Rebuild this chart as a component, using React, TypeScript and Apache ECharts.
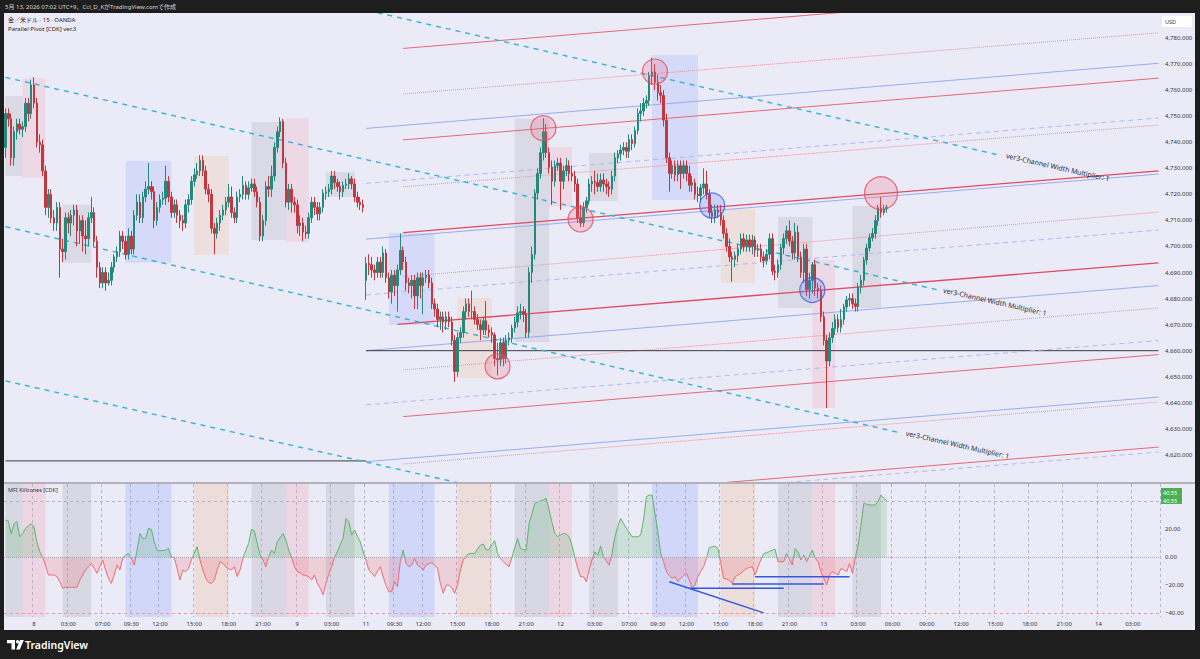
import React, { useEffect, useRef } from "react";
import * as echarts from "echarts";

const FONT = "'Noto Sans', 'Noto Sans CJK JP', sans-serif";
const N_SLOTS = 404;

const TICK_IDX = [10, 22, 34, 44, 54, 66, 78, 90, 102, 114, 126, 136, 146, 158, 170, 182, 194, 206, 218, 228, 238, 250, 262, 274, 286, 298, 310, 322, 334, 346, 358, 370, 382, 394];
const TICK_LABELS = ["8", "03:00", "07:00", "09:30", "12:00", "15:00", "18:00", "21:00", "9", "03:00", "11", "09:30", "12:00", "15:00", "18:00", "21:00", "12", "03:00", "07:00", "09:30", "12:00", "15:00", "18:00", "21:00", "13", "03:00", "06:00", "09:00", "12:00", "15:00", "18:00", "21:00", "14", "03:00"];

const PRICE_TICKS = [4620, 4630, 4640, 4650, 4660, 4670, 4680, 4690, 4700, 4710, 4720, 4730, 4740, 4750, 4760, 4770, 4780];
const MFI_TICKS = [20, 0, -20, -40];

// [open, close, low, high] per 15-min bar
const CANDLES: number[][] = [
  [4738, 4751, 4734, 4753], [4751, 4749, 4746, 4753], [4749, 4734, 4731, 4751], [4734, 4744, 4731, 4746], [4744, 4747, 4741, 4749],
  [4747, 4745, 4743, 4749], [4745, 4746, 4742, 4748], [4746, 4755, 4744, 4757], [4755, 4751, 4748, 4757], [4751, 4762, 4749, 4764],
  [4762, 4755, 4753, 4765], [4755, 4740, 4738, 4757], [4740, 4739, 4736, 4743], [4739, 4729, 4727, 4741], [4729, 4715, 4712, 4731],
  [4715, 4720, 4711, 4722], [4720, 4711, 4709, 4722], [4711, 4709, 4706, 4714], [4709, 4715, 4706, 4717], [4715, 4699, 4688, 4717],
  [4699, 4698, 4694, 4703], [4698, 4711, 4695, 4713], [4711, 4709, 4705, 4713], [4709, 4712, 4704, 4714], [4712, 4714, 4708, 4716],
  [4714, 4706, 4700, 4716], [4706, 4710, 4701, 4712], [4710, 4704, 4698, 4712], [4704, 4703, 4697, 4710], [4703, 4711, 4700, 4713],
  [4711, 4713, 4709, 4719], [4713, 4702, 4700, 4715], [4702, 4692, 4688, 4704], [4692, 4686, 4684, 4694], [4686, 4690, 4684, 4692],
  [4690, 4686, 4683, 4692], [4686, 4687, 4685, 4690], [4687, 4692, 4685, 4694], [4692, 4696, 4690, 4697], [4696, 4698, 4694, 4700],
  [4698, 4704, 4696, 4706], [4704, 4702, 4699, 4706], [4702, 4697, 4695, 4704], [4697, 4704, 4695, 4707], [4704, 4699, 4697, 4706],
  [4699, 4712, 4697, 4714], [4712, 4717, 4710, 4720], [4717, 4711, 4709, 4720], [4711, 4719, 4709, 4721], [4719, 4722, 4717, 4725],
  [4722, 4723, 4720, 4732], [4723, 4721, 4718, 4725], [4721, 4710, 4707, 4723], [4710, 4715, 4708, 4717], [4715, 4718, 4713, 4720],
  [4718, 4718.5, 4716, 4721], [4718.5, 4725, 4716, 4731], [4725, 4719, 4717, 4727], [4719, 4713, 4711, 4721], [4713, 4716, 4711, 4718],
  [4716, 4712, 4709, 4718], [4712, 4710, 4707, 4714], [4710, 4709, 4706, 4712], [4709, 4716, 4707, 4718], [4716, 4718, 4713, 4720],
  [4718, 4725, 4716, 4727], [4725, 4727.5, 4723, 4730], [4727.5, 4729, 4726, 4732], [4729, 4733, 4727, 4735], [4733, 4729, 4727, 4735],
  [4729, 4722, 4720, 4731], [4722, 4720, 4717, 4724], [4720, 4707, 4705, 4722], [4707, 4705, 4697, 4709], [4705, 4709, 4703, 4711],
  [4709, 4712, 4706, 4714], [4712, 4714, 4710, 4716], [4714, 4717, 4712, 4719], [4717, 4719, 4715, 4724], [4719, 4713, 4711, 4723],
  [4713, 4711, 4709, 4715], [4711, 4719, 4709, 4721], [4719, 4720, 4717, 4722], [4720, 4723.5, 4718, 4727], [4723.5, 4720, 4718, 4725],
  [4720, 4722.5, 4718, 4725], [4722.5, 4724, 4721, 4726], [4724, 4721, 4719, 4726], [4721, 4717, 4715, 4723], [4717, 4704, 4702, 4719],
  [4704, 4710, 4702, 4712], [4710, 4723, 4708, 4725], [4723, 4722, 4719, 4727], [4722, 4727, 4719, 4731], [4727, 4738, 4725, 4740],
  [4738, 4744, 4736, 4746], [4744, 4748, 4742, 4749.5], [4748, 4732, 4730, 4749], [4732, 4717, 4715, 4734], [4717, 4722, 4714, 4724],
  [4722, 4717, 4713, 4724], [4717, 4716, 4713, 4719], [4716, 4708, 4705, 4718], [4708, 4709, 4704, 4712], [4709, 4705.5, 4702, 4711],
  [4705.5, 4705, 4703, 4708], [4705, 4711, 4703, 4713], [4711, 4717, 4709, 4719], [4717, 4715, 4712, 4719], [4715, 4712.5, 4710, 4717],
  [4712.5, 4715, 4710, 4717], [4715, 4720.5, 4713, 4722], [4720.5, 4721, 4718, 4723], [4721, 4722, 4719, 4724], [4722, 4727, 4720, 4729],
  [4727, 4724.5, 4722, 4729], [4724.5, 4723, 4721, 4726], [4723, 4721, 4718, 4725], [4721, 4723.5, 4719, 4725], [4723.5, 4724, 4722, 4726],
  [4724, 4726, 4722, 4728], [4726, 4724, 4722, 4727], [4724, 4719, 4717, 4726], [4719, 4717, 4715, 4721], [4717, 4716, 4714, 4719],
  [4716, 4715, 4713, 4718],
  [4687, 4693.5, 4679.5, 4696], [4693.5, 4693, 4689, 4697], [4693, 4691, 4688, 4696], [4691, 4690, 4687, 4693], [4690, 4694, 4688, 4696],
  [4694, 4690, 4688, 4696], [4690, 4697.5, 4688, 4700], [4697.5, 4688, 4686, 4699], [4688, 4682.5, 4680, 4690], [4682.5, 4689, 4678, 4691],
  [4689, 4685, 4681, 4691], [4685, 4691, 4675, 4693], [4691, 4698.5, 4689, 4705], [4698.5, 4694, 4691, 4700], [4694, 4686, 4683, 4696],
  [4686, 4685, 4682, 4688], [4685, 4687, 4680, 4689], [4687, 4681, 4676, 4689], [4681, 4688, 4676, 4690], [4688, 4685, 4680, 4690],
  [4685, 4688, 4674, 4690], [4688, 4689, 4686, 4691], [4689, 4686, 4684, 4691], [4686, 4678, 4676, 4688], [4678, 4676, 4673, 4680],
  [4676, 4672, 4669, 4678], [4672, 4673, 4668, 4675], [4673, 4671, 4667, 4675], [4671, 4673, 4668, 4675], [4673, 4671, 4669, 4675],
  [4671, 4664, 4662, 4673], [4664, 4652, 4648, 4666], [4652, 4665, 4650, 4667], [4665, 4667, 4663, 4669], [4667, 4675, 4665, 4677],
  [4675, 4678, 4672, 4680], [4678, 4675, 4673, 4680], [4675, 4675, 4672, 4683], [4675, 4672, 4670, 4677], [4672, 4670, 4668, 4674],
  [4670, 4668, 4664, 4672], [4668, 4671.5, 4666, 4673], [4671.5, 4668, 4666, 4679], [4668, 4667, 4665, 4670], [4667, 4666, 4663, 4669],
  [4666, 4657, 4654, 4667], [4657, 4656.5, 4650.5, 4663], [4656.5, 4663, 4654, 4665], [4663, 4657, 4654, 4665], [4657, 4664, 4655, 4666],
  [4664, 4665, 4662, 4667], [4665, 4668.7, 4663, 4670], [4668.7, 4671, 4667, 4673], [4671, 4674.5, 4669, 4677], [4674.5, 4675, 4672, 4678],
  [4675, 4674, 4671, 4677], [4674, 4667, 4665, 4676], [4667, 4690, 4665, 4692], [4690, 4697, 4686, 4700], [4697, 4720.5, 4695, 4722],
  [4720.5, 4728, 4718, 4730], [4728, 4736, 4726, 4738], [4736, 4744, 4733, 4749.3], [4744, 4736, 4734, 4747], [4736, 4730.5, 4728, 4738],
  [4730.5, 4725, 4716, 4733], [4725, 4731, 4723, 4733], [4731, 4732, 4729, 4734], [4732, 4725, 4714, 4734], [4725, 4729, 4722, 4731],
  [4729, 4731, 4727, 4734], [4731, 4728, 4725, 4733], [4728, 4727, 4725, 4731], [4727, 4724, 4721, 4729], [4724, 4711, 4709, 4726],
  [4711, 4709, 4707.5, 4716], [4709, 4715, 4707.5, 4717], [4715, 4717.5, 4713, 4719], [4717.5, 4724, 4716, 4726], [4724, 4725, 4721, 4727],
  [4725, 4724.5, 4720, 4729], [4724.5, 4723, 4721, 4728], [4723, 4725.5, 4721, 4728], [4725.5, 4724, 4721, 4728], [4724, 4723, 4720, 4726],
  [4723, 4722, 4719, 4725], [4722, 4727, 4720, 4729], [4727, 4734, 4725, 4736], [4734, 4735.5, 4732, 4737], [4735.5, 4737, 4733, 4739],
  [4737, 4738, 4735, 4740], [4738, 4736.5, 4734, 4740], [4736.5, 4741, 4734, 4743], [4741, 4739.5, 4737, 4743], [4739.5, 4744.5, 4738, 4746],
  [4744.5, 4751, 4743, 4753], [4751, 4752, 4748, 4755], [4752, 4755, 4750, 4757], [4755, 4756, 4753, 4758], [4756, 4765.5, 4754, 4767],
  [4765.5, 4767, 4762, 4772.5], [4767, 4763, 4760, 4770], [4763, 4759, 4756, 4766], [4759, 4758, 4755, 4762], [4758, 4748.5, 4746, 4760],
  [4748.5, 4734, 4732, 4751], [4734, 4728, 4721, 4736], [4728, 4731, 4726, 4733], [4731, 4727.5, 4725, 4733], [4727.5, 4731, 4725, 4733],
  [4731, 4728, 4722, 4733], [4728, 4731, 4726, 4733], [4731, 4728, 4725, 4733], [4728, 4723.5, 4721, 4731], [4723.5, 4724.5, 4721, 4727],
  [4724.5, 4720, 4718, 4726], [4720, 4719.5, 4717, 4723], [4719.5, 4722.5, 4717, 4724], [4722.5, 4724, 4720, 4730], [4724, 4720, 4718, 4729],
  [4720, 4713, 4711, 4722], [4713, 4711.5, 4709, 4716], [4711.5, 4714, 4709, 4716], [4714, 4713, 4711, 4716], [4713, 4710, 4708, 4716],
  [4710, 4705, 4703, 4712], [4705, 4700, 4698, 4707], [4700, 4696, 4694, 4703], [4696, 4695, 4686.5, 4698], [4695, 4696.5, 4692, 4698],
  [4696.5, 4699, 4694, 4701], [4699, 4703, 4697, 4705], [4703, 4700, 4698, 4705], [4700, 4702.5, 4698, 4704.5], [4702.5, 4700, 4698, 4704.5],
  [4700, 4702.5, 4697, 4704.5], [4702.5, 4698.5, 4696, 4704], [4698.5, 4699, 4696, 4701], [4699, 4696, 4694, 4701], [4696, 4694.5, 4692, 4698],
  [4694.5, 4697, 4693, 4699], [4697, 4703, 4695, 4705], [4703, 4690.5, 4689, 4705], [4690.5, 4690, 4687, 4693], [4690, 4693, 4688, 4695],
  [4693, 4699.5, 4691, 4701], [4699.5, 4703, 4697, 4705], [4703, 4706, 4701, 4708], [4706, 4702, 4700, 4710], [4702, 4697.5, 4695, 4704],
  [4697.5, 4705.5, 4695, 4709], [4705.5, 4696, 4694, 4708], [4696, 4690, 4688, 4698], [4690, 4699, 4686, 4701], [4699, 4683.5, 4681, 4701],
  [4683.5, 4687, 4680, 4690], [4687, 4693, 4682, 4694], [4693, 4684, 4681, 4695], [4684, 4683, 4680, 4686], [4683, 4673, 4671, 4685],
  [4673, 4664, 4662, 4675], [4664, 4656, 4638, 4666], [4656, 4665, 4654, 4667], [4665, 4668.5, 4663, 4671], [4668.5, 4672, 4666, 4674],
  [4672, 4669, 4667, 4674], [4669, 4672, 4667, 4676], [4672, 4676.8, 4670, 4678], [4676.8, 4679.5, 4675, 4681], [4679.5, 4680, 4677, 4682],
  [4680, 4678, 4676, 4682], [4678, 4677, 4675, 4680], [4677, 4684.5, 4675, 4686], [4684.5, 4687, 4682, 4689], [4687, 4694.8, 4685, 4696],
  [4694.8, 4699.4, 4693, 4701], [4699.4, 4703.3, 4698, 4705], [4703.3, 4705, 4702, 4707], [4705, 4710, 4703, 4712], [4710, 4714.8, 4708, 4716],
  [4714.8, 4713, 4711, 4719], [4713, 4714.5, 4712, 4716], [4714.5, 4715, 4713, 4716],
];

const MFI: number[] = [
  26.6, 26, 17, 24, 25.6, 14.7, 17, 20.7, 22.5, 24,
  21.7, 11.2, 4, 0, -5.5, -12.6, -12.6, -12.6, -13.8, -17.4,
  -22.1, -21.4, -21.4, -21.4, -21.4, -21.4, -16.2, -12.6, -9, -6.7,
  -4.3, -7.9, -11.4, -6.7, -1.9, -9, -15, -18.6, -12.6, -5.5,
  -9, -0.7, 1.6, 2.8, -0.7, -5.5, 5.2, 17, 13.5, 13.5,
  20.7, 20, 11.2, 5.2, 4.8, 4.8, 5.2, 6.4, 0, 0,
  -8, -16.2, -9, -10.2, -7.9, -1.9, 3, 7.6, -1.9, -9,
  -15, -18, -18.6, -16.2, -9, -3.1, -4.3, -6.7, -8, -9,
  -6.7, -13.8, -9, -0.7, 5, 10, 20, 19, 10, 2,
  -1.9, -6.7, 0.5, 5.2, 2.8, 11.2, 14, 17, 12.4, 5.2,
  0, -6.7, -10.2, -11, -12.6, -13, -13.8, -16.2, -12.6, -18.6,
  -22, -26.9, -18.6, -12, -6.7, 0, 4, 9, 13.5, 27.8,
  25.6, 16, 19.5, 15, 11.2, 4, -1.9, -9, -11, -13.8,
  -10, -6.7, -13.8, -20, -24.5, -24.5, -17.4, -21, -3, 5.2,
  -4.3, -6.7, -5.5, -0.7, -5.5, -7, -9, -5.5, -4.5, -3.8,
  -5.5, -7.9, -18.6, -25.7, -19.8, -19.8, -22, -25.7, -19.8, -9,
  -1.9, 1, 2.8, 2.8, 2.8, 6, 8.8, 9.5, 5.2, 5.7,
  9, 11.9, 2.8, -0.7, -3.1, -5, -6.7, 0, 7, 13.5,
  6.4, 5.5, 5.2, 24.3, 31, 38.6, 39.5, 40.4, 41, 42.1,
  33.8, 25, 17.1, 14.7, 16, 17.1, 16.7, 14.7, 8.8, 0,
  -7.9, -13.8, -13.8, -17.4, -9, -1.9, 4, 1.6, 8, 0.5,
  -2.5, -5.5, 2.8, 14.7, 22, 27.8, 24.3, 20.7, 18, 14.7,
  14.7, 14.7, 16, 26.7, 43.3, 44.5, 44.5, 31.4, 18.3, 2.8,
  -3.1, -10.2, -13, -15, -13.8, -17.4, -15, -13, -11.4, -16.2,
  -22.1, -19.8, -13.8, -10, -6.7, -0.7, 7.1, 7.5, 8, 6.4,
  -4.3, -15, -15.5, -16.2, -18.6, -13.8, -12.6, -11.4, -9.5, -7.9,
  -7.3, -6.7, -12.6, -6.7, -1.9, 2.8, 3.3, 4.2, 5.2, 5.7,
  -3.1, -3.1, -3.1, 2.8, -1.5, -5.5, 6.4, 4, -1.9, 1.6,
  -3.1, 1, 5.2, -0.7, -3.1, -10.2, -15, -19.8, -12.6, -10.2,
  -11.4, -12.6, -7.9, -9, -10.2, -4.3, -11.4, -0.7, 8.8, 23,
  38.6, 38, 37.4, 37.4, 37.4, 40, 44.5, 42.1, 40.55,
];
const MFI_LAST = "40.55";

// killzone sessions (bar index ranges) and their price boxes
const BAND_START = [0, 6, 20, 42, 66, 86, 98, 112, 134, 158, 178, 190, 204, 226, 250, 270, 282, 296];
const BAND_END = [6, 14, 30, 58, 78, 98, 106, 122, 150, 170, 190, 198, 214, 242, 262, 282, 290, 306];
const BAND_KIND = ["g", "p", "g", "b", "o", "g", "p", "g", "b", "o", "g", "p", "g", "b", "o", "g", "p", "g"];
const BOX_LOW = [4727, 4726.3, 4693.7, 4693.7, 4696.7, 4702.5, 4701.7, 4719, 4669.9, 4649.5, 4663.3, 4715.2, 4717.4, 4717.8, 4686, 4676.4, 4638, 4676.4];
const BOX_HIGH = [4757.7, 4764.6, 4716, 4732.8, 4734.7, 4747.8, 4749.3, 4728.6, 4705.2, 4680.2, 4749, 4738.2, 4735.9, 4773.5, 4714.4, 4711.3, 4694.8, 4715.5];

// parallel pivot channel lines: [start bar, start price] -> [end bar, end price]
const CH_KIND = ["redSolid", "redDot", "blueSolid", "redSolid", "blueDash", "redDot", "redThick", "blueSolid", "redDot", "blueDash", "redThick", "blueSolid", "redDot", "black", "blueDash", "redSolid", "blueSolid", "redDot", "redSolid", "blueDash", "black"];
const CH_X0 = [139, 139, 126, 139, 126, 139, 139, 126, 139, 126, 137, 126, 139, 126, 126, 139, 126, 139, 139, 126, 0];
const CH_P0 = [4776.0, 4758.5, 4745.3, 4740.9, 4724.2, 4722.9, 4705.3, 4702.8, 4688.4, 4681.4, 4670.1, 4660.0, 4652.6, 4660, 4639.2, 4634.7, 4617.4, 4616.5, 4599.3, 4596.2, 4617.7];
const CH_X1 = [403, 403, 403, 403, 403, 403, 403, 403, 403, 403, 403, 403, 403, 403, 403, 403, 403, 403, 403, 403, 126];
const CH_P1 = [4799.8, 4782.0, 4770.3, 4764.6, 4749.3, 4746.6, 4729.0, 4727.8, 4713.2, 4706.3, 4693.7, 4685.0, 4676.4, 4660, 4663.9, 4658.5, 4642.2, 4640.3, 4623.0, 4621.1, 4617.7];

// descending channel (cyan) lines
const CY_X0 = [113, 0, 0, 0];
const CY_P0 = [4794, 4764.9, 4707.6, 4648.4];
const CY_X1 = [348, 326, 313, 200];
const CY_P1 = [4734.9, 4683.3, 4628.4, 4599];
const CY_LABEL = ["ver3-Channel Width Multiplier: 1", "ver3-Channel Width Multiplier: 1", "ver3-Channel Width Multiplier: 1", ""];

// pivot circles
const CIRCLE_X = [172, 188, 201, 227, 306, 247, 282];
const CIRCLE_P = [4654, 4745.4, 4710.4, 4767.1, 4720.4, 4715.7, 4683.3];
const CIRCLE_KIND = ["red", "red", "red", "red", "redBig", "blue", "blue"];

// MFI trend lines
const MT_X0 = [232, 239, 254, 262];
const MT_V0 = [-17.4, -22.1, -19, -13.8];
const MT_X1 = [265, 272, 286, 295];
const MT_V1 = [-39.6, -22.1, -19, -13.8];

const BAND_COLORS: Record<string, string> = {
  g: "rgba(150,150,165,0.22)",
  p: "rgba(245,140,165,0.22)",
  b: "rgba(120,150,255,0.24)",
  o: "rgba(240,175,125,0.22)",
};
const BOX_COLORS: Record<string, string> = {
  g: "rgba(150,150,165,0.2)",
  p: "rgba(245,140,165,0.2)",
  b: "rgba(120,150,255,0.2)",
  o: "rgba(240,175,125,0.2)",
};
const LINE_STYLES: Record<string, any> = {
  redSolid: { color: "#e6677a", width: 1, type: "solid" },
  redThick: { color: "#e14a5e", width: 1.3, type: "solid" },
  redDot: { color: "#ec8e9b", width: 1, type: "dotted" },
  blueSolid: { color: "#97abef", width: 1, type: "solid" },
  blueDash: { color: "#aab9f0", width: 1, type: [5, 4] },
  black: { color: "#3a3a42", width: 1, type: "solid" },
};

const fmtPrice = (v: number) =>
  v.toLocaleString("en-US", { minimumFractionDigits: 3, maximumFractionDigits: 3 });
const fmtMfi = (v: number) => (v < 0 ? "\u2212" : "") + Math.abs(v).toFixed(2);

export default function App() {
  const ref = useRef<HTMLDivElement>(null);

  useEffect(() => {
    document.body.style.margin = "0";
    if (!ref.current) return;
    const chart = echarts.init(ref.current, undefined, { renderer: "svg" });

    const slots = Array.from({ length: N_SLOTS }, (_, i) => String(i));
    const tickSet = new Set(TICK_IDX);
    const tickLabel = (i: number) => {
      const k = TICK_IDX.indexOf(i);
      return k >= 0 ? TICK_LABELS[k] : "";
    };

    const series: any[] = [];

    // 0: MFI
    series.push({
      type: "line",
      name: "MFI",
      xAxisIndex: 1,
      yAxisIndex: 1,
      data: MFI,
      symbol: "none",
      lineStyle: { width: 1 },
      areaStyle: { opacity: 0.22, origin: "auto" },
      silent: true,
      z: 3,
      markArea: {
        silent: true,
        data: BAND_START.map((s, k) => [
          { xAxis: s, itemStyle: { color: BAND_COLORS[BAND_KIND[k]] } },
          { xAxis: BAND_END[k] },
        ]),
      },
      markLine: {
        silent: true,
        symbol: ["none", "none"],
        label: { show: false },
        data: [
          { yAxis: 40, lineStyle: { color: "#b3b3c4", type: [3, 3], width: 1 } },
          { yAxis: 0, lineStyle: { color: "#a8a8b8", type: "dotted", width: 1 } },
          { yAxis: -40, lineStyle: { color: "#e79aa6", type: [3, 3], width: 1 } },
        ],
      },
    });

    MT_X0.forEach((x0, k) => {
      series.push({
        type: "line",
        xAxisIndex: 1,
        yAxisIndex: 1,
        data: [[x0, MT_V0[k]], [MT_X1[k], MT_V1[k]]],
        symbol: "none",
        silent: true,
        z: 4,
        lineStyle: { color: "#3557e0", width: 1.4 },
      });
    });

    CH_KIND.forEach((kind, k) => {
      series.push({
        type: "line",
        xAxisIndex: 0,
        yAxisIndex: 0,
        data: [[CH_X0[k], CH_P0[k]], [CH_X1[k], CH_P1[k]]],
        symbol: "none",
        silent: true,
        clip: true,
        lineStyle: LINE_STYLES[kind],
      });
    });

    CY_X0.forEach((x0, k) => {
      const s: any = {
        type: "line",
        xAxisIndex: 0,
        yAxisIndex: 0,
        data: [[x0, CY_P0[k]], [CY_X1[k], CY_P1[k]]],
        symbol: "none",
        silent: true,
        clip: true,
        lineStyle: { color: "#2fb3d6", width: 1.4, type: [5, 5] },
      };
      if (CY_LABEL[k]) {
        s.markPoint = {
          silent: true,
          symbol: "circle",
          symbolSize: 0,
          data: [{ coord: [CY_X1[k], CY_P1[k]] }],
          label: {
            show: true,
            position: "right",
            distance: 5,
            rotate: -12.8,
            formatter: CY_LABEL[k],
            fontSize: 7,
            color: "#2a2a30",
            fontFamily: FONT,
          },
        };
      }
      series.push(s);
    });

    series.push({
      type: "candlestick",
      xAxisIndex: 0,
      yAxisIndex: 0,
      data: CANDLES,
      barWidth: "70%",
      silent: true,
      z: 3,
      itemStyle: {
        color: "#24887a",
        color0: "#c4373f",
        borderColor: "#24887a",
        borderColor0: "#c4373f",
        borderWidth: 1,
      },
      markArea: {
        silent: true,
        data: BAND_START.map((s, k) => [
          { coord: [s, BOX_LOW[k]], itemStyle: { color: BOX_COLORS[BAND_KIND[k]] } },
          { coord: [BAND_END[k], BOX_HIGH[k]] },
        ]),
      },
    });

    series.push({
      type: "scatter",
      xAxisIndex: 0,
      yAxisIndex: 0,
      silent: true,
      z: 6,
      data: CIRCLE_X.map((x, k) => {
        const kind = CIRCLE_KIND[k];
        const isBlue = kind === "blue";
        return {
          value: [x, CIRCLE_P[k]],
          symbolSize: kind === "redBig" ? 33 : 25,
          itemStyle: {
            color: isBlue ? "rgba(90,120,240,0.28)" : "rgba(240,100,125,0.3)",
            borderColor: isBlue ? "#3a5ce0" : "#e24c60",
            borderWidth: 1.2,
          },
        };
      }),
    });

    const option: any = {
      animation: false,
      textStyle: { fontFamily: FONT },
      grid: [
        { left: 4, right: 40, top: 13, height: 469 },
        { left: 4, right: 40, top: 484, height: 133 },
      ],
      xAxis: [
        {
          type: "category",
          gridIndex: 0,
          data: slots,
          boundaryGap: true,
          axisLine: { show: false },
          axisTick: { show: false },
          axisLabel: { show: false },
          splitLine: { show: false },
        },
        {
          type: "category",
          gridIndex: 1,
          data: slots,
          boundaryGap: true,
          axisLine: { show: false },
          axisTick: { show: false },
          axisLabel: {
            show: true,
            interval: (i: number) => tickSet.has(i),
            formatter: (_v: string, i: number) => tickLabel(i),
            fontSize: 6,
            color: "#333",
            margin: 4,
          },
          splitLine: {
            show: true,
            interval: (i: number) => tickSet.has(i),
            lineStyle: { type: [3, 3], color: "#b6b6c8", width: 1 },
          },
        },
      ],
      yAxis: [
        {
          type: "value",
          gridIndex: 0,
          position: "right",
          min: 4609.6,
          max: 4789.6,
          axisLine: { show: false },
          axisTick: { show: false },
          splitLine: { show: false },
          axisLabel: {
            customValues: PRICE_TICKS,
            formatter: fmtPrice,
            fontSize: 6,
            color: "#333",
            margin: 5,
          },
        },
        {
          type: "value",
          gridIndex: 1,
          position: "right",
          min: -42.6,
          max: 52.4,
          axisLine: { show: false },
          axisTick: { show: false },
          splitLine: { show: false },
          axisLabel: {
            customValues: MFI_TICKS,
            formatter: fmtMfi,
            fontSize: 6,
            color: "#333",
            margin: 5,
          },
        },
      ],
      visualMap: [
        {
          type: "piecewise",
          show: false,
          seriesIndex: 0,
          pieces: [
            { gte: -1000, lt: 0, color: "#ee6b6f" },
            { gte: 0, lte: 1000, color: "#5fb36c" },
          ],
        },
      ],
      series,
      graphic: [
        { type: "rect", shape: { x: 4, y: 482, width: 1191, height: 2 }, style: { fill: "#b2b2bc" }, z: 50, silent: true },
        { type: "text", x: 8, y: 20, style: { text: "金／米ドル · 15 · OANDA", fontSize: 6, fill: "#222", fontFamily: FONT, verticalAlign: "middle" }, z: 50, silent: true },
        { type: "text", x: 8, y: 29, style: { text: "Parallel Pivot [CDK] ver.3", fontSize: 6, fill: "#222", fontFamily: FONT, verticalAlign: "middle" }, z: 50, silent: true },
        { type: "text", x: 8, y: 490, style: { text: "MFI Killzones [CDK]", fontSize: 5.5, fill: "#333", fontFamily: FONT, verticalAlign: "middle" }, z: 50, silent: true },
        { type: "rect", shape: { x: 1162, y: 16, width: 30, height: 11 }, style: { fill: "#ffffff" }, z: 50, silent: true },
        { type: "text", x: 1165, y: 21.5, style: { text: "USD", fontSize: 5.5, fill: "#333", fontFamily: FONT, verticalAlign: "middle" }, z: 51, silent: true },
        { type: "rect", shape: { x: 1161, y: 488, width: 21, height: 16 }, style: { fill: "#4caf50" }, z: 50, silent: true },
        { type: "text", x: 1163, y: 492.7, style: { text: MFI_LAST, fontSize: 5.5, fill: "#fff", fontFamily: FONT, verticalAlign: "middle" }, z: 51, silent: true },
        { type: "text", x: 1163, y: 500.5, style: { text: MFI_LAST, fontSize: 5.5, fill: "#fff", fontFamily: FONT, verticalAlign: "middle" }, z: 51, silent: true },
        { type: "rect", shape: { x: 0, y: 0, width: 1200, height: 13 }, style: { fill: "#1e1e1f" }, z: 100, silent: true },
        { type: "rect", shape: { x: 0, y: 630, width: 1200, height: 29 }, style: { fill: "#1e1e1f" }, z: 100, silent: true },
        { type: "rect", shape: { x: 0, y: 0, width: 4, height: 659 }, style: { fill: "#1e1e1f" }, z: 100, silent: true },
        { type: "rect", shape: { x: 1195, y: 0, width: 5, height: 659 }, style: { fill: "#1e1e1f" }, z: 100, silent: true },
        { type: "text", x: 5, y: 6.5, style: { text: "5月 13, 2026 07:02 UTC+9、Ccl_D_KがTradingView.comで作成", fontSize: 6, fill: "#d8d8d8", fontFamily: FONT, verticalAlign: "middle" }, z: 101, silent: true },
        { type: "polygon", shape: { points: [[7, 640], [15, 640], [15, 649.5], [11.5, 649.5], [11.5, 643.3], [7, 643.3]] }, style: { fill: "#ffffff" }, z: 101, silent: true },
        { type: "circle", shape: { cx: 17.6, cy: 641.7, r: 1.7 }, style: { fill: "#ffffff" }, z: 101, silent: true },
        { type: "polygon", shape: { points: [[20, 640], [23.8, 640], [19.8, 649.5], [16.2, 649.5]] }, style: { fill: "#ffffff" }, z: 101, silent: true },
        { type: "text", x: 25, y: 645, style: { text: "TradingView", fontSize: 10.5, fontWeight: 600, fill: "#ffffff", fontFamily: FONT, verticalAlign: "middle" }, z: 101, silent: true },
      ],
    };

    chart.setOption(option);
    return () => chart.dispose();
  }, []);

  return (
    <div
      ref={ref}
      style={{ width: 1200, height: 659, background: "#ebebf7" }}
    />
  );
}
